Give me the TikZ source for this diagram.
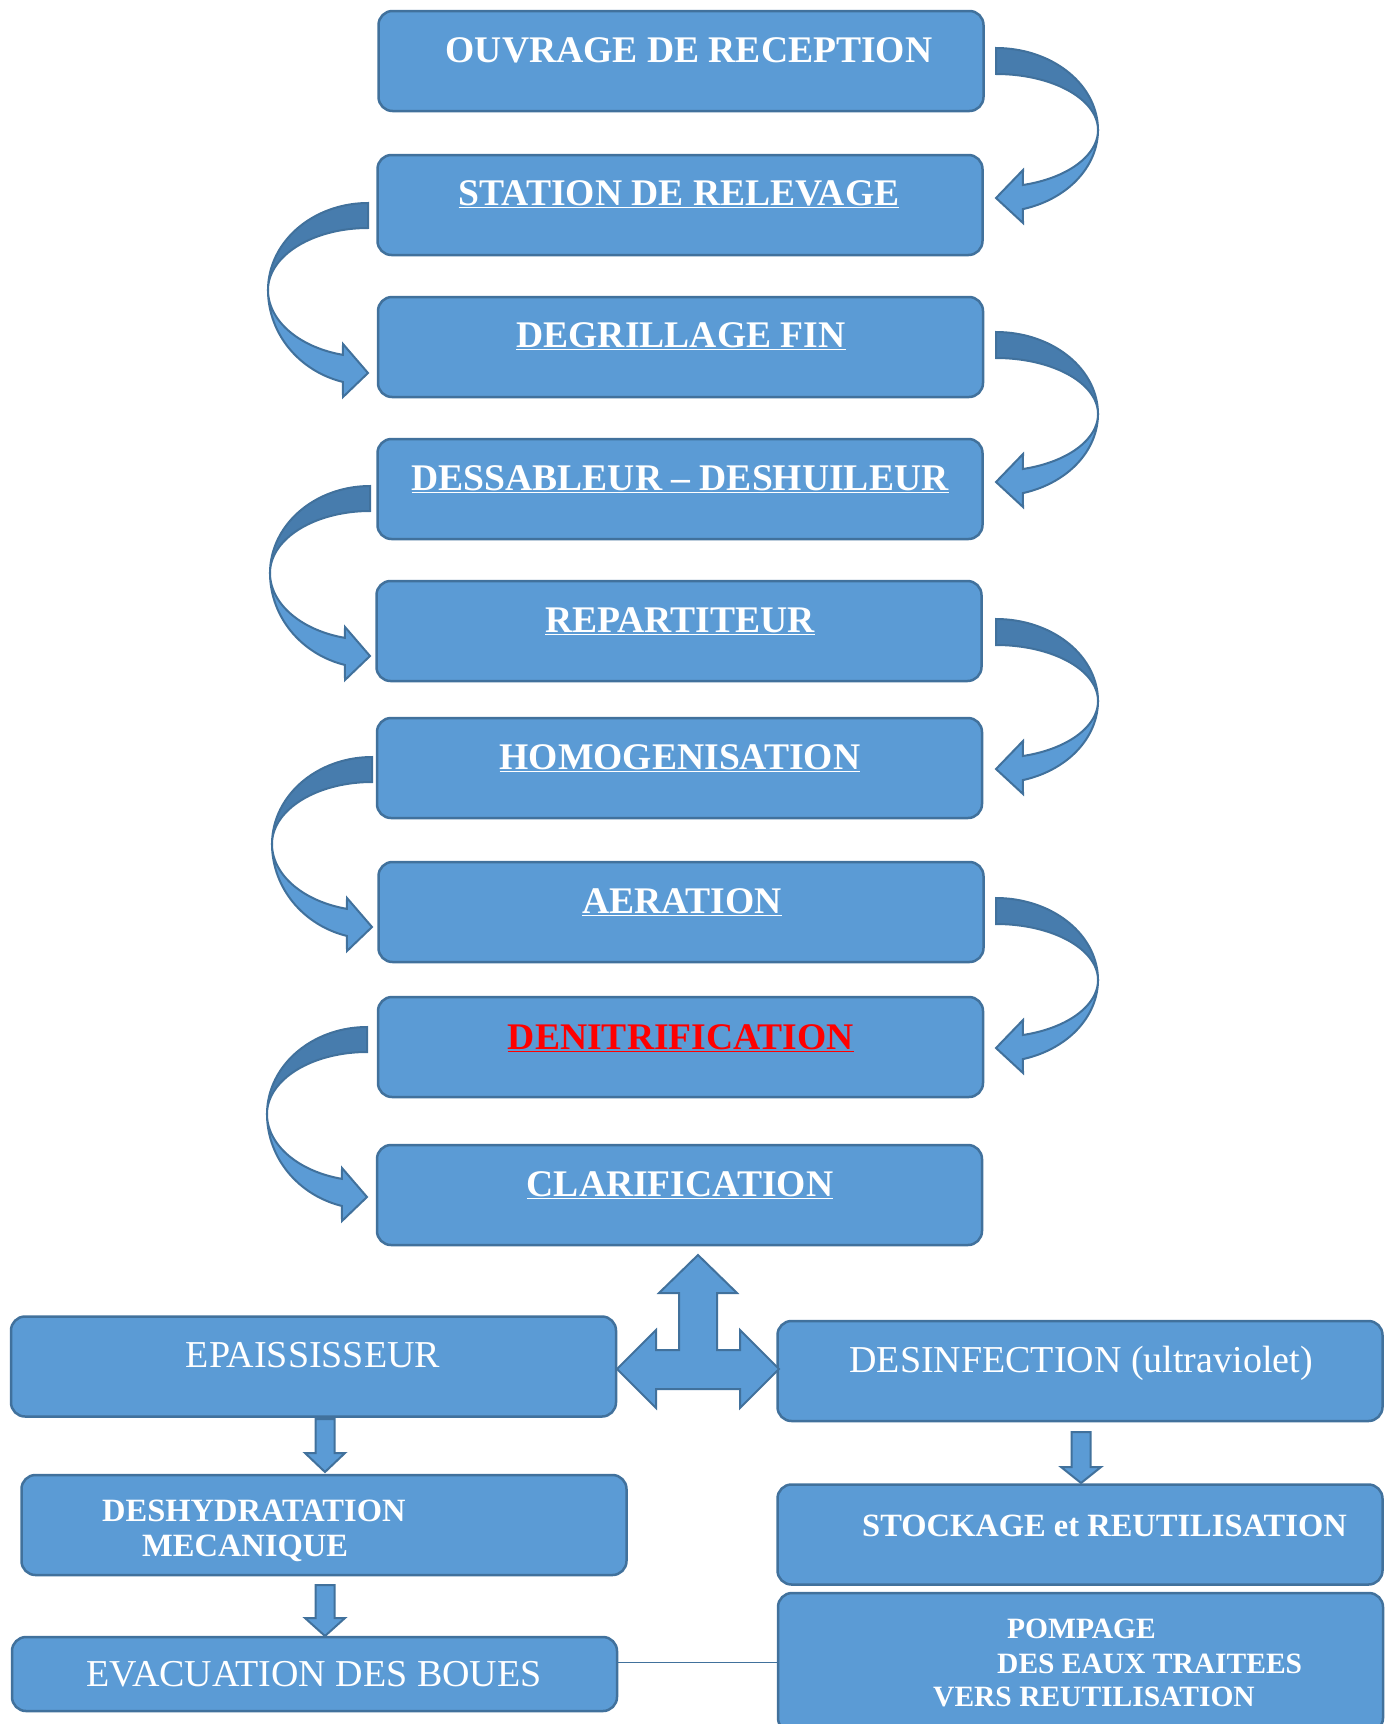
\documentclass[tikz,border=0pt]{standalone}
\usepackage{fontspec}
\setmainfont{Liberation Serif}
\definecolor{boxfill}{HTML}{5B9BD5}
\definecolor{boxedge}{HTML}{41719C}
\definecolor{shade}{HTML}{477CAD}
\definecolor{redtxt}{HTML}{FF0000}
\tikzset{
 box/.style={draw=boxedge, line width=2.5pt, fill=boxfill, rounded corners=14pt, minimum width=605pt, minimum height=100pt, inner sep=0pt},
 bigb/.style={text=white, font=\fontsize{37.6}{44}\selectfont\bfseries, anchor=base, inner sep=0pt},
 bigr/.style={text=white, font=\fontsize{38}{44}\selectfont, anchor=base, inner sep=0pt},
 smallb/.style={text=white, font=\fontsize{32.5}{37}\selectfont\bfseries, anchor=base west, inner sep=0pt},
 tinyb/.style={text=white, font=\fontsize{29.5}{35}\selectfont\bfseries, anchor=base west, inner sep=0pt},
 blockarrow/.style={draw=boxedge, line width=2pt, fill=boxfill, line join=miter},
 shadearrow/.style={draw=boxedge, line width=2pt, fill=shade, line join=miter},
}
\newcommand{\rcurve}[2]{%
 \filldraw[blockarrow] plot[domain=0:74.7,samples=40] ({#1+102*cos(\x)},{#2+82+82*sin(\x)}) -- ({#1+27},{#2+82+93}) -- ({#1},{#2+82+68}) -- ({#1+27},{#2+82+40}) -- plot[domain=74.7:0,samples=40] ({#1+102*cos(\x)},{#2+82+57*sin(\x)}) -- cycle;
 \filldraw[shadearrow] (#1,#2) -- plot[domain=-90:0,samples=40] ({#1+102*cos(\x)},{#2+82+82*sin(\x)}) -- plot[domain=0:-90,samples=40] ({#1+102*cos(\x)},{#2+82+56*sin(\x)}) -- cycle;
}
\newcommand{\lcurve}[2]{%
 \filldraw[blockarrow] plot[domain=180:104.5,samples=40] ({#1+100*cos(\x)},{#2+87+95*sin(\x)}) -- ({#1-25},{#2+87+107}) -- ({#1},{#2+87+83}) -- ({#1-25},{#2+87+54}) -- plot[domain=104.5:180,samples=40] ({#1+100*cos(\x)},{#2+87+67*sin(\x)}) -- cycle;
 \filldraw[shadearrow] (#1,#2) -- plot[domain=-90:-180,samples=40] ({#1+100*cos(\x)},{#2+87+87*sin(\x)}) -- plot[domain=-180:-90,samples=40] ({#1+100*cos(\x)},{#2+87+62*sin(\x)}) -- cycle;
}
\newcommand{\downblock}[4]{% cx, top, headbase, tip
 \filldraw[blockarrow] ({#1-9.5},#2) -- ({#1+9.5},#2) -- ({#1+9.5},#3) -- ({#1+20},#3) -- (#1,#4) -- ({#1-20},#3) -- ({#1-9.5},#3) -- cycle;
}
\begin{document}
\begin{tikzpicture}[x=1pt,y=-1pt]
\useasboundingbox (0,0) rectangle (1391,1724);
% boxes
\node[box] (b1) at (681,61) {};
\node[box] (b2) at (680,205) {};
\node[box] (b3) at (680.5,347) {};
\node[box] (b4) at (680,489) {};
\node[box] (b5) at (679,631) {};
\node[box] (b6) at (679.5,768) {};
\node[box] (b7) at (681,912) {};
\node[box] (b8) at (680.5,1047) {};
\node[box] (b9) at (679.5,1195) {};
\node[box] (b10) at (313.5,1366.5) {};
\node[box] (b11) at (1080,1371) {};
\node[box] (b12) at (324,1525) {};
\node[box] (b13) at (1080,1534.5) {};
\node[box, minimum height=74pt] (b14) at (314.5,1674) {};
\node[box, minimum height=139pt] (b15) at (1080.5,1662.5) {};
% texts
\node[bigb] (t1) at (689,62) {OUVRAGE DE RECEPTION};
\node[bigb] (t2) at (679,205) {\underline{STATION DE RELEVAGE}};
\node[bigb] (t3) at (681,347) {\underline{DEGRILLAGE FIN}};
\node[bigb] (t4) at (680,490) {\underline{DESSABLEUR – DESHUILEUR}};
\node[bigb] (t5) at (680,632) {\underline{REPARTITEUR}};
\node[bigb] (t6) at (680,769) {\underline{HOMOGENISATION}};
\node[bigb] (t7) at (682,913) {\underline{AERATION}};
\node[bigb, text=redtxt] (t8) at (681,1049) {\underline{DENITRIFICATION}};
\node[bigb] (t9) at (680,1196) {\underline{CLARIFICATION}};
\node[bigr] (t10) at (313,1367) {EPAISSISSEUR};
\node[bigr] (t11) at (1081,1372) {DESINFECTION (ultraviolet)};
\node[smallb] (t12a) at (102,1521) {DESHYDRATATION};
\node[smallb] (t12b) at (142,1556) {MECANIQUE};
\node[smallb] (t13) at (862,1536) {STOCKAGE et REUTILISATION};
\node[bigr] (t14) at (314,1686) {EVACUATION DES BOUES};
\node[tinyb] (t15a) at (1007,1638) {POMPAGE};
\node[tinyb] (t15b) at (997,1673) {DES EAUX TRAITEES};
\node[tinyb] (t15c) at (933,1706) {VERS REUTILISATION};
% curved arrows
\rcurve{996}{48}
\rcurve{996}{332}
\rcurve{996}{619}
\rcurve{996}{898}
\lcurve{368}{203}
\lcurve{370}{486}
\lcurve{372}{757}
\lcurve{367}{1027}
% three-way arrow
\filldraw[blockarrow] (698,1255) -- (737,1293) -- (717,1293) -- (717,1350) -- (740,1350) -- (740,1330) -- (779,1369) -- (740,1408) -- (740,1389) -- (656,1389) -- (656,1408) -- (617,1369) -- (656,1330) -- (656,1350) -- (679,1350) -- (679,1293) -- (659,1293) -- cycle;
% down arrows
\downblock{325}{1419}{1453}{1472}
\downblock{325}{1585}{1618}{1636}
\downblock{1081}{1432}{1467}{1483}
% connector line
\draw[boxedge, line width=1.5pt] (b15.west) -- (b15.west -| b14.east);
\end{tikzpicture}
\end{document}
